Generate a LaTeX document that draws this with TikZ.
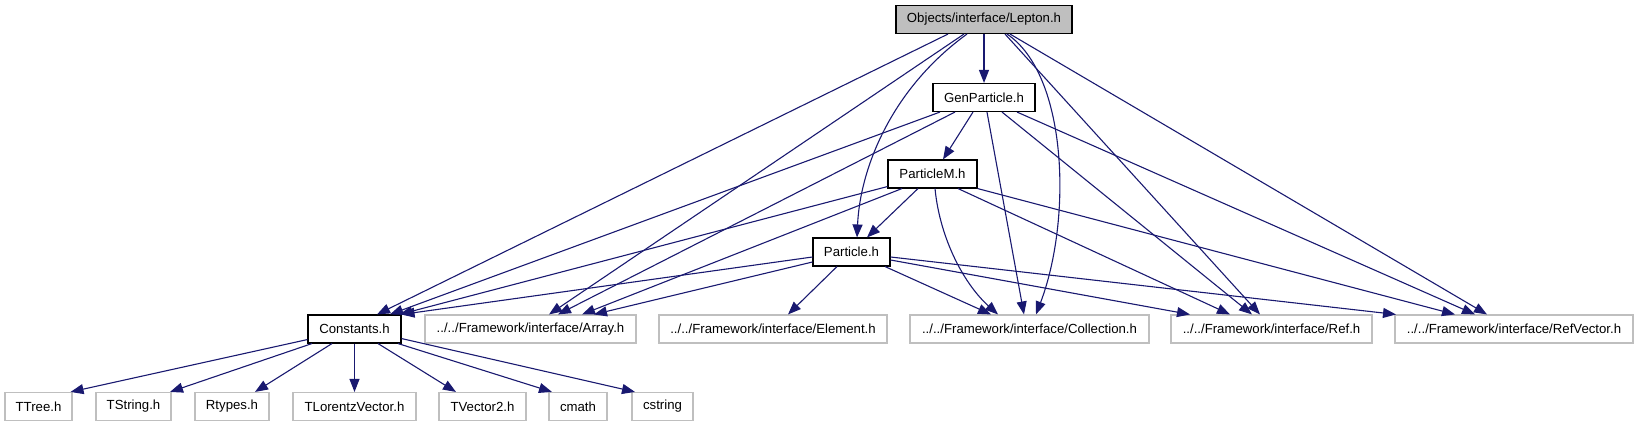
\documentclass[tikz,border=0pt]{standalone}
\usepackage{fontspec}
\setmainfont{Liberation Sans}
\usetikzlibrary{arrows.meta,calc}
\definecolor{edgeblue}{HTML}{191970}
\definecolor{boxgray}{HTML}{BFBFBF}
\begin{document}
\begin{tikzpicture}[x=1pt,y=-1pt,
  font=\fontsize{13.2}{15}\selectfont,
  bbox/.style={draw=black, line width=1.1pt, fill=white, minimum height=28pt, inner sep=0pt},
  gbox/.style={draw=boxgray, line width=1.1pt, fill=white, minimum height=28pt, inner sep=0pt},
  rootbox/.style={bbox, fill=boxgray},
  dep/.style={draw=edgeblue, line width=1.1pt, -{Triangle[length=13pt,width=10pt]}}]
\useasboundingbox (0,0) rectangle (1639,427);
% nodes
\node[rootbox, minimum width=176pt] (lepton) at (984,19.5) {Objects/interface/Lepton.h};
\node[bbox, minimum width=102pt] (gen) at (984,97.5) {GenParticle.h};
\node[bbox, minimum width=89pt] (pm) at (932.5,174) {ParticleM.h};
\node[bbox, minimum width=77pt] (part) at (851.5,252) {Particle.h};
\node[bbox, minimum width=93pt] (const) at (354.5,329) {Constants.h};
\node[gbox, minimum width=211pt] (array) at (530.5,329) {../../Framework/interface/Array.h};
\node[gbox, minimum width=228pt] (element) at (773,329) {../../Framework/interface/Element.h};
\node[gbox, minimum width=239pt] (coll) at (1029.5,329) {../../Framework/interface/Collection.h};
\node[gbox, minimum width=201pt] (ref) at (1271.5,329) {../../Framework/interface/Ref.h};
\node[gbox, minimum width=238pt] (refvec) at (1514,329) {../../Framework/interface/RefVector.h};
\node[gbox, minimum width=67pt] (ttree) at (38.5,406.5) {TTree.h};
\node[gbox, minimum width=75pt] (tstring) at (133.5,406.5) {TString.h};
\node[gbox, minimum width=74pt] (rtypes) at (232,406.5) {Rtypes.h};
\node[gbox, minimum width=123pt] (tlv) at (354.5,406.5) {TLorentzVector.h};
\node[gbox, minimum width=87pt] (tv2) at (482.5,406.5) {TVector2.h};
\node[gbox, minimum width=58pt] (cmath) at (578,406.5) {cmath};
\node[gbox, minimum width=61pt] (cstring) at (662.5,406.5) {cstring};
% Lepton edges
\draw[dep] ([xshift=-36pt]lepton.south) -- ([xshift=22.5pt]const.north);
\draw[dep] ([xshift=-20pt]lepton.south) -- ([xshift=18.5pt]array.north);
\draw[dep] ([xshift=-17pt]lepton.south) .. controls (890,90) and (860,170) .. ([xshift=5.5pt]part.north);
\draw[dep] (lepton.south) -- (gen.north);
\draw[dep] ([xshift=23pt]lepton.south) .. controls (1068,75) and (1072,220) .. ([xshift=6.5pt]coll.north);
\draw[dep] ([xshift=21pt]lepton.south) -- ([xshift=-11.5pt]ref.north);
\draw[dep] ([xshift=26pt]lepton.south) -- ([xshift=-27pt]refvec.north);
% GenParticle edges
\draw[dep] ([xshift=-44pt]gen.south) -- ([xshift=35.5pt]const.north);
\draw[dep] ([xshift=-29pt]gen.south) -- ([xshift=27.5pt]array.north);
\draw[dep] ([xshift=-11pt]gen.south) -- ([xshift=10.5pt]pm.north);
\draw[dep] ([xshift=3pt]gen.south) -- ([xshift=-5.5pt]coll.north);
\draw[dep] ([xshift=18pt]gen.south) -- ([xshift=-19.5pt]ref.north);
\draw[dep] ([xshift=33pt]gen.south) -- ([xshift=-39pt]refvec.north);
% ParticleM edges
\draw[dep] ([yshift=2pt]pm.south west) -- ([xshift=-2pt]const.north east);
\draw[dep] ([xshift=-30.5pt]pm.south) -- ([xshift=51.5pt]array.north);
\draw[dep] ([xshift=-14.5pt]pm.south) -- ([xshift=15.5pt]part.north);
\draw[dep] ([xshift=2.5pt]pm.south) .. controls (940,240) and (965,285) .. ([xshift=-31.5pt]coll.north);
\draw[dep] ([xshift=25.5pt]pm.south) -- ([xshift=-41.5pt]ref.north);
\draw[dep] (pm.south east) -- ([xshift=-59pt]refvec.north);
% Particle edges
\draw[dep] ([yshift=-5pt]part.west) -- (const.north east);
\draw[dep] ([yshift=-10pt]part.west) -- ([xshift=63.5pt]array.north);
\draw[dep] ([xshift=-14.5pt]part.south) -- ([xshift=15pt]element.north);
\draw[dep] ([xshift=33.5pt]part.south) -- ([xshift=-38.5pt]coll.north);
\draw[dep] ([yshift=-8pt]part.east) -- ([xshift=-81.5pt]ref.north);
\draw[dep] ([yshift=-5pt]part.east) -- ([xshift=-118pt]refvec.north);
% Constants edges
\draw[dep] ([yshift=4pt]const.south west) -- ([xshift=-2pt]ttree.north east);
\draw[dep] ([xshift=-42.5pt]const.south) -- ([xshift=36.5pt]tstring.north);
\draw[dep] ([xshift=-22.5pt]const.south) -- ([xshift=23pt]rtypes.north);
\draw[dep] (const.south) -- (tlv.north);
\draw[dep] ([xshift=23.5pt]const.south) -- ([xshift=-26.5pt]tv2.north);
\draw[dep] ([xshift=43.5pt]const.south) -- ([xshift=-26pt]cmath.north);
\draw[dep] ([yshift=5pt]const.south east) -- ([xshift=-27.5pt]cstring.north);
\end{tikzpicture}
\end{document}
